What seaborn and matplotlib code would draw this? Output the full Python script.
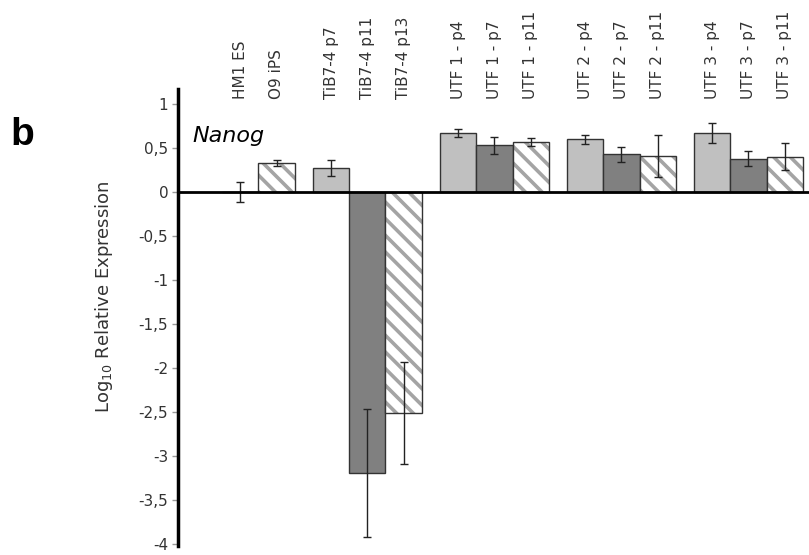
import numpy as np
import pandas as pd
import matplotlib
matplotlib.use("Agg")
import matplotlib.pyplot as plt
from matplotlib.colors import to_rgba
import seaborn as sns

# clusters on the x axis and the three bar styles inside each cluster
groups = ["ES/iPS", "TiB7-4", "UTF 1", "UTF 2", "UTF 3"]
series = ["early", "mid", "late"]

# log10 relative Nanog expression
early_vals = [np.nan, 0.27, 0.67, 0.60, 0.67]
mid_vals = [0.0, -3.19, 0.53, 0.43, 0.38]
late_vals = [0.33, -2.51, 0.57, 0.41, 0.40]

early_err = [np.nan, 0.09, 0.045, 0.05, 0.115]
mid_err = [0.115, 0.73, 0.10, 0.085, 0.09]
late_err = [0.03, 0.58, 0.045, 0.235, 0.155]

early_labels = [None, "TiB7-4 p7", "UTF 1 - p4", "UTF 2 - p4", "UTF 3 - p4"]
mid_labels = ["HM1 ES", "TiB7-4 p11", "UTF 1 - p7", "UTF 2 - p7", "UTF 3 - p7"]
late_labels = ["O9 iPS", "TiB7-4 p13", "UTF 1 - p11", "UTF 2 - p11", "UTF 3 - p11"]

yticks = np.arange(-4, 1.01, 0.5)

records = []
for s, vals, errs, labs in [
    ("early", early_vals, early_err, early_labels),
    ("mid", mid_vals, mid_err, mid_labels),
    ("late", late_vals, late_err, late_labels),
]:
    for g, v, e, lab in zip(groups, vals, errs, labs):
        if not np.isnan(v):
            records.append({"group": g, "series": s, "value": v, "err": e, "label": lab})
df = pd.DataFrame.from_records(records)

sns.set_style("white")
plt.rcParams["font.family"] = ["DejaVu Sans"]
plt.rcParams["hatch.linewidth"] = 2.6

fig = plt.figure(figsize=(8.09, 5.55), dpi=100)
ax = fig.add_axes([178 / 809, 9 / 555, 634 / 809, 457 / 555])

palette = {"early": "#c0c0c0", "mid": "#808080", "late": "#ffffff"}
sns.barplot(
    data=df,
    x="group",
    y="value",
    hue="series",
    order=groups,
    hue_order=series,
    palette=palette,
    saturation=1,
    width=6 / 7,
    errorbar=None,
    edgecolor="#333333",
    linewidth=1,
    legend=False,
    ax=ax,
)

bar_containers = list(ax.containers)
for i, container in enumerate(bar_containers):
    s = series[i]
    for bar in container:
        gx = bar.get_x() + bar.get_width() / 2
        g = groups[int(round(gx))]
        row = df[(df["group"] == g) & (df["series"] == s)]
        if row.empty:
            continue
        row = row.iloc[0]
        if s == "late":
            bar.set_hatch("\\\\")
            bar._hatch_color = to_rgba("#a4a4a4")
        ax.errorbar(
            gx, row["value"], yerr=row["err"], fmt="none",
            ecolor="#222222", elinewidth=1, capsize=3, capthick=1, zorder=5,
        )
        ax.text(
            gx, 1.06, row["label"], rotation=90, ha="center", va="bottom",
            fontsize=11, color="#333333", clip_on=False,
        )

ax.set_xlim(-0.49, 4.5)
ax.set_ylim(-4.02, 1.17)
ax.set_yticks(yticks)
ax.set_yticklabels([f"{v:g}".replace(".", ",") for v in yticks])
ax.tick_params(axis="y", length=4, width=1, color="#999999", labelsize=11,
               labelcolor="#333333", direction="out", left=True, pad=3)
ax.tick_params(axis="x", length=0, labelbottom=False)
ax.set_xlabel("")
ax.set_ylabel("Log$_{10}$ Relative Expression", fontsize=13, color="#333333")
ax.yaxis.set_label_coords(-0.100, 0.545)

for side in ["top", "right"]:
    ax.spines[side].set_visible(False)
ax.spines["bottom"].set_position(("data", 0))
ax.spines["bottom"].set_linewidth(2)
ax.spines["bottom"].set_color("black")
ax.spines["bottom"].set_zorder(6)
ax.spines["left"].set_linewidth(2.5)
ax.spines["left"].set_color("black")

ax.text(-0.375, 0.57, "Nanog", fontsize=16, style="italic", color="black",
        va="baseline", ha="left")
fig.text(10 / 809, 1 - 145 / 555, "b", fontsize=28, fontweight="bold",
         family="Liberation Sans", color="black", va="baseline", ha="left")

fig.savefig("out.png", dpi=100)
